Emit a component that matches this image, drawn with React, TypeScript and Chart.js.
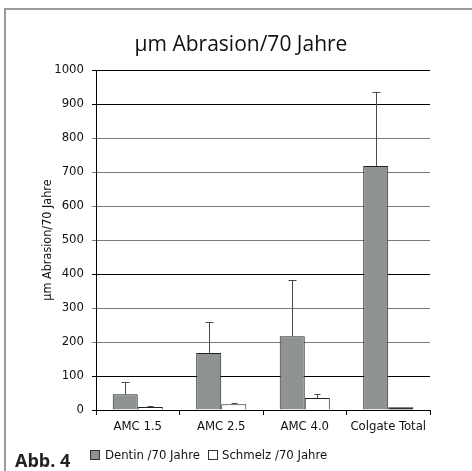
import React, { useEffect, useRef } from 'react';
import { Chart, registerables } from 'chart.js';

Chart.register(...registerables);

const categories = ['AMC 1.5', 'AMC 2.5', 'AMC 4.0', 'Colgate Total'];
const dentin = [46, 168, 217, 718];
const dentinErr = [37, 90, 164, 217];
const schmelz = [9, 17, 35, 8];
const schmelzErr = [2, 3, 12, 0];
const schmelzColors = ['#ffffff', '#ffffff', '#ffffff', '#000000'];
const blackGridValues = [0, 100, 400, 900, 1000];

const titleText = 'µm Abrasion/70 Jahre';
const yTitleText = 'µm Abrasion/70 Jahre';
const legendLabels = ['Dentin /70 Jahre', 'Schmelz /70 Jahre'];

const NARROW = "'DejaVu Sans', sans-serif";
const SANS = "'Open Sans', 'Noto Sans', sans-serif";

const errorBarPlugin = {
  id: 'errorBars',
  afterDatasetsDraw(chart: any) {
    const ctx = chart.ctx;
    const y = chart.scales.y;
    chart.data.datasets.forEach((ds: any, i: number) => {
      const meta = chart.getDatasetMeta(i);
      const errs: number[] = ds.errors || [];
      meta.data.forEach((el: any, j: number) => {
        const e = errs[j];
        if (!e) return;
        const v = ds.data[j];
        const yTop = Math.round(y.getPixelForValue(v + e)) + 0.5;
        const x = Math.round(el.x) + 0.5;
        const half = ds.capHalf || 4;
        ctx.save();
        ctx.strokeStyle = '#4a4a4a';
        ctx.lineWidth = 1;
        ctx.beginPath();
        ctx.moveTo(x, el.y);
        ctx.lineTo(x, yTop);
        ctx.moveTo(x - half, yTop);
        ctx.lineTo(x + half, yTop);
        ctx.stroke();
        ctx.restore();
      });
    });
  },
};

export default function App() {
  const ref = useRef<HTMLCanvasElement | null>(null);

  useEffect(() => {
    if (!ref.current) return;
    const chart = new Chart(ref.current, {
      type: 'bar',
      data: {
        labels: categories,
        datasets: [
          {
            label: legendLabels[0],
            data: dentin,
            errors: dentinErr,
            capHalf: 4,
            backgroundColor: '#8f9393',
            borderColor: '#222222',
            borderWidth: 1,
            categoryPercentage: 0.6,
            barPercentage: 1,
          } as any,
          {
            label: legendLabels[1],
            data: schmelz,
            errors: schmelzErr,
            capHalf: 3,
            backgroundColor: schmelzColors,
            borderColor: '#222222',
            borderWidth: 1,
            categoryPercentage: 0.6,
            barPercentage: 1,
          } as any,
        ],
      },
      options: {
        responsive: false,
        animation: false,
        layout: { padding: { left: 10, right: 42, top: 70, bottom: 0 } },
        plugins: {
          legend: { display: false },
          tooltip: { enabled: false },
          title: { display: false },
        },
        scales: {
          x: {
            grid: { offset: true, drawOnChartArea: false, drawTicks: true, tickLength: 5, color: '#000000' },
            border: { display: true, color: '#000000' },
            ticks: { color: '#111111', font: { family: NARROW, size: 13, weight: 'condensed' }, padding: 4, maxRotation: 0, autoSkip: false },
            afterFit: (s: any) => { s.height = 61; },
          },
          y: {
            min: 0,
            max: 1000,
            ticks: {
              stepSize: 100,
              color: '#111111',
              font: { family: NARROW, size: 13, weight: 'condensed' },
              padding: 8,
              callback: (v: any) => String(v),
            },
            grid: {
              color: (c: any) => (blackGridValues.includes(c.tick?.value) ? '#000000' : '#7a7a7a'),
              tickLength: 4,
            },
            border: { display: true, color: '#000000' },
            title: {
              display: true,
              text: yTitleText,
              color: '#111111',
              font: { family: NARROW, size: 12.5, weight: 'condensed' },
              padding: { top: 30, bottom: 0 },
            },
            afterFit: (s: any) => { s.width = 86; },
          },
        },
      } as any,
      plugins: [errorBarPlugin],
    });
    return () => chart.destroy();
  }, []);

  const legendText: React.CSSProperties = {
    position: 'absolute', top: 447.5, fontFamily: NARROW, fontStretch: 'condensed',
    fontSize: 13, lineHeight: 1, color: '#111', whiteSpace: 'nowrap',
  };

  return (
    <div style={{ position: 'fixed', left: 0, top: 0, width: 472, height: 471, background: '#ffffff', overflow: 'hidden' }}>
      <div style={{ position: 'absolute', left: 4, top: 8, width: 468, height: 2, background: '#9a9a9a' }} />
      <div style={{ position: 'absolute', left: 4, top: 8, width: 2, height: 463, background: '#9a9a9a' }} />
      <canvas ref={ref} width={472} height={471} style={{ position: 'absolute', left: 0, top: 0, width: 472, height: 471 }} />
      <div style={{ position: 'absolute', left: 0, width: 482, top: 33, textAlign: 'center', fontFamily: SANS, fontSize: 21, lineHeight: 1, color: '#111', whiteSpace: 'nowrap' }}>
        {titleText}
      </div>
      <div style={{ position: 'absolute', left: 15, top: 450.5, fontFamily: SANS, fontWeight: 700, fontSize: 18, lineHeight: 1, color: '#222', whiteSpace: 'nowrap' }}>
        Abb. 4
      </div>
      <div style={{ position: 'absolute', left: 90, top: 450, width: 8, height: 8, background: '#8f9393', border: '1px solid #333' }} />
      <div style={{ ...legendText, left: 105 }}>{legendLabels[0]}</div>
      <div style={{ position: 'absolute', left: 208, top: 450, width: 8, height: 8, background: '#ffffff', border: '1px solid #333' }} />
      <div style={{ ...legendText, left: 222 }}>{legendLabels[1]}</div>
    </div>
  );
}
